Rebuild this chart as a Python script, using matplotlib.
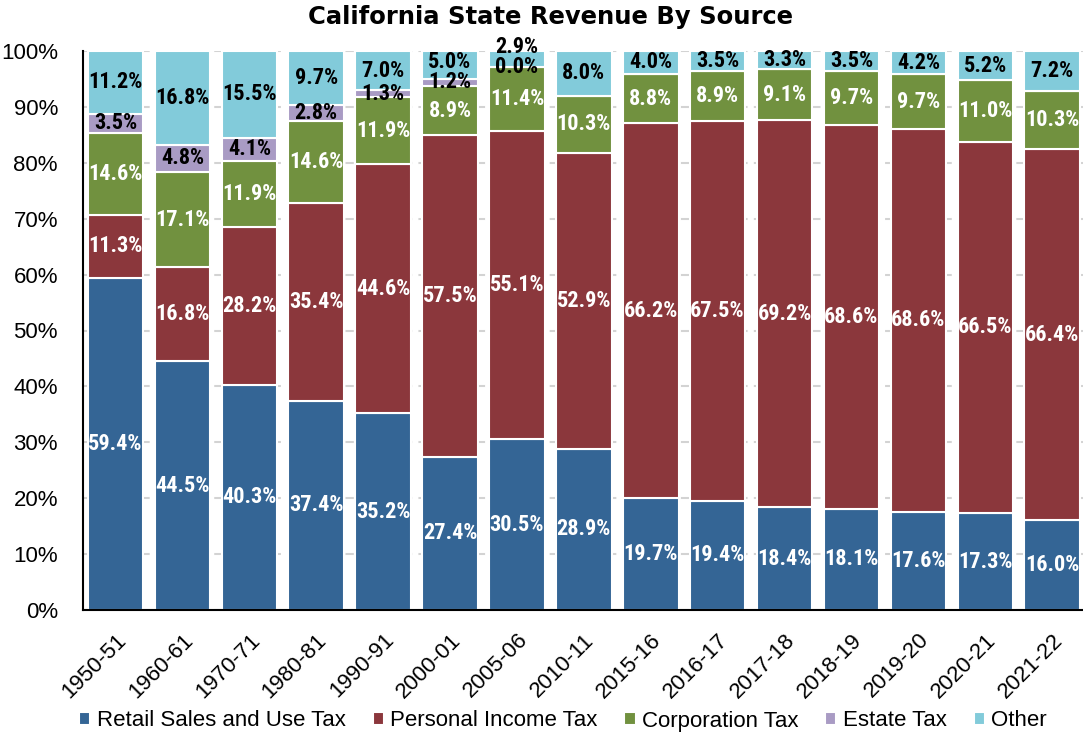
import matplotlib
matplotlib.use("Agg")
import matplotlib.pyplot as plt
from matplotlib import font_manager
import numpy as np

years = ["1950-51", "1960-61", "1970-71", "1980-81", "1990-91", "2000-01", "2005-06",
         "2010-11", "2015-16", "2016-17", "2017-18", "2018-19", "2019-20", "2020-21", "2021-22"]
retail = [59.4, 44.5, 40.3, 37.4, 35.2, 27.4, 30.5, 28.9, 19.7, 19.4, 18.4, 18.1, 17.6, 17.3, 16.0]
income = [11.3, 16.8, 28.2, 35.4, 44.6, 57.5, 55.1, 52.9, 66.2, 67.5, 69.2, 68.6, 68.6, 66.5, 66.4]
corp = [14.6, 17.1, 11.9, 14.6, 11.9, 8.9, 11.4, 10.3, 8.8, 8.9, 9.1, 9.7, 9.7, 11.0, 10.3]
estate = [3.5, 4.8, 4.1, 2.8, 1.3, 1.2, 0.0, None, None, None, None, None, None, None, None]
other = [11.2, 16.8, 15.5, 9.7, 7.0, 5.0, 2.9, 8.0, 4.0, 3.5, 3.3, 3.5, 4.2, 5.2, 7.2]

series_names = ["Retail Sales and Use Tax", "Personal Income Tax", "Corporation Tax", "Estate Tax", "Other"]
series_vals = [retail, income, corp, estate, other]
colors = ["#346595", "#8B373C", "#71913F", "#A99BC4", "#82CBDA"]
label_colors = ["white", "white", "white", "black", "black"]

plt.rcParams['font.family'] = ['Liberation Sans', 'DejaVu Sans']

installed = {f.name for f in font_manager.fontManager.ttflist}
label_font = ['Liberation Sans', 'DejaVu Sans']
label_size = 14
for cand, size in [('Liberation Sans Narrow', 16), ('Roboto Condensed', 16),
                   ('Open Sans Condensed', 15.5), ('Arial Narrow', 16)]:
    if cand in installed:
        label_font = [cand, 'Liberation Sans', 'DejaVu Sans']
        label_size = size
        break

fig = plt.figure(figsize=(10.83, 7.34), dpi=100)
ax = fig.add_axes([83/1083, 1 - 610/734, 1000/1083, (610-51)/734])

x = np.arange(len(years))
raw = np.array([[0.0 if v is None else v for v in s] for s in series_vals])
totals = raw.sum(axis=0)
norm = raw / totals * 100

bottom = np.zeros(len(years))
label_pos = {}
for i, (name, col) in enumerate(zip(series_names, colors)):
    ax.bar(x, norm[i], 0.83, bottom=bottom, color=col, edgecolor="white", linewidth=1.5,
           label=name, zorder=3)
    for j in range(len(years)):
        v = series_vals[i][j]
        if v is None:
            continue
        yc = bottom[j] + norm[i][j] / 2
        prev = label_pos.get(j)
        if prev is not None and yc - prev < 3.6:
            yc = prev + 3.7
        label_pos[j] = yc
        ax.text(x[j], yc, f"{v:.1f}%", ha="center", va="center", color=label_colors[i],
                fontsize=label_size, fontweight="bold", family=label_font, zorder=5,
                clip_on=False)
    bottom += norm[i]

ax.set_xlim(-0.486, 14.46)
ax.set_ylim(0, 100)
ax.set_yticks(np.arange(0, 101, 10))
ax.set_yticklabels([f"{t}%" for t in range(0, 101, 10)], fontsize=16)
ax.set_xticks(x)
ax.set_xticklabels(years, rotation=45, ha="right", rotation_mode="anchor", fontsize=16)
ax.tick_params(axis="y", length=0, pad=18)
ax.tick_params(axis="x", length=0, pad=14)
ax.yaxis.grid(True, color="#D3D3D3", linestyle=(0, (4, 3)), linewidth=1.5, zorder=0)
for s in ["top", "right"]:
    ax.spines[s].set_visible(False)
ax.spines["left"].set_linewidth(1.5)
ax.spines["bottom"].set_linewidth(1.5)
ax.spines["left"].set_zorder(6)
ax.spines["bottom"].set_zorder(6)

fig.text(0.508, 1 - 17/734, "California State Revenue By Source", ha="center", va="center",
         fontsize=17.5, fontweight="bold", family=['DejaVu Sans'])

leg = fig.legend(loc="center", bbox_to_anchor=(0.52, 1 - 721/734), ncol=5, frameon=False,
                 fontsize=16, handlelength=0.5, handleheight=0.5, handletextpad=0.3,
                 columnspacing=1.2)

fig.savefig("out.png", dpi=100)
